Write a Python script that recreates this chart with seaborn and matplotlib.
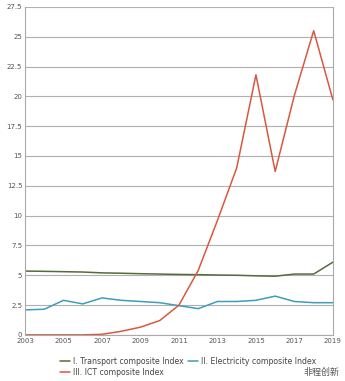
import matplotlib
matplotlib.use("Agg")
import matplotlib.pyplot as plt
import seaborn as sns
import pandas as pd

years = list(range(2003, 2020))
transport = [5.35, 5.33, 5.3, 5.27, 5.2, 5.17, 5.13, 5.1, 5.07, 5.05, 5.02, 5.0, 4.95, 4.92, 5.1, 5.1, 6.1]
electricity = [2.1, 2.15, 2.9, 2.6, 3.1, 2.9, 2.8, 2.7, 2.45, 2.2, 2.8, 2.8, 2.9, 3.25, 2.8, 2.7, 2.7]
ict = [0.0, 0.0, 0.0, 0.0, 0.05, 0.3, 0.65, 1.2, 2.5, 5.4, 9.6, 14.0, 21.8, 13.7, 20.1, 25.5, 19.7]
series_names = ["I. Transport composite Index", "II. Electricity composite Index", "III. ICT composite Index"]
yticks = [0, 2.5, 5, 7.5, 10, 12.5, 15, 17.5, 20, 22.5, 25, 27.5]
ytick_labels = ["0", "2.5", "5", "7.5", "10", "12.5", "15", "17.5", "20", "22.5", "25", "27.5"]
xticks = [2003, 2005, 2007, 2009, 2011, 2013, 2015, 2017, 2019]

df = pd.DataFrame({
    "year": years * 3,
    "value": transport + electricity + ict,
    "series": [series_names[0]] * len(years) + [series_names[1]] * len(years) + [series_names[2]] * len(years),
})

sns.set_theme(style="white")
plt.rcParams['font.family'] = ['DejaVu Sans', 'Noto Sans CJK SC']

fig = plt.figure(figsize=(3.45, 3.81), dpi=100)
ax = fig.add_axes([0.0725, 0.121, 0.8925, 0.861])
palette = {series_names[0]: "#556b3c", series_names[1]: "#3d9dbb", series_names[2]: "#d9583e"}
sns.lineplot(data=df, x="year", y="value", hue="series", palette=palette, ax=ax, linewidth=1.1, legend=True)

ax.set_xlim(2003, 2019)
ax.set_ylim(0, 27.5)
ax.set_yticks(yticks)
ax.set_yticklabels(ytick_labels)
ax.set_xticks(xticks)
ax.set_xticklabels([str(x) for x in xticks])
ax.tick_params(axis="both", labelsize=5, colors="#555555", length=0, pad=2)
ax.grid(axis="y", color="#b0b0b0", linewidth=0.8)
ax.set_axisbelow(True)
ax.set_xlabel("")
ax.set_ylabel("")
for s in ["left", "right", "bottom"]:
    ax.spines[s].set_color("#aaaaaa")
    ax.spines[s].set_linewidth(0.8)
ax.spines["top"].set_visible(False)

handles, labels = ax.get_legend_handles_labels()
order = [0, 2, 1]
ax.legend([handles[i] for i in order], [labels[i] for i in order], ncol=2, loc="upper left",
          bbox_to_anchor=(0.09, -0.045), frameon=False, fontsize=5.6, handlelength=1.3,
          handletextpad=0.4, columnspacing=0.5, labelspacing=0.25, labelcolor="#444444")

fig.text(0.985, 0.022, "非程创新", fontsize=6.5, color="#555555", ha="right", va="center",
         family=['Noto Sans CJK SC', 'DejaVu Sans'])

fig.savefig("out.png", dpi=100, facecolor="white")
